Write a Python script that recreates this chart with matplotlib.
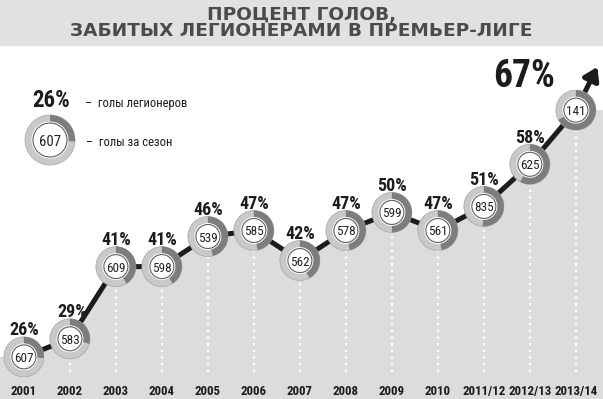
import matplotlib
matplotlib.use('Agg')
import matplotlib.pyplot as plt
from matplotlib import font_manager as fm
from matplotlib.patches import Wedge, Circle, Rectangle
from matplotlib.transforms import ScaledTranslation, blended_transform_factory

# data
seasons = ['2001', '2002', '2003', '2004', '2005', '2006', '2007', '2008',
           '2009', '2010', '2011/12', '2012/13', '2013/14']
share = [26, 29, 41, 41, 46, 47, 42, 47, 50, 47, 51, 58, 67]   # % goals by legionnaires
goals = [607, 583, 609, 598, 539, 585, 562, 578, 599, 561, 835, 625, 141]  # goals per season

title = 'ПРОЦЕНТ ГОЛОВ,\nЗАБИТЫХ ЛЕГИОНЕРАМИ В ПРЕМЬЕР-ЛИГЕ'
legend_pct = 'голы легионеров'
legend_goals = 'голы за сезон'


# look for a condensed face
def pick_narrow():
    fonts = fm.fontManager.ttflist
    names = {f.name for f in fonts}
    for p in ['Roboto Condensed', 'Liberation Sans Narrow', 'Open Sans Condensed',
              'Noto Sans Condensed', 'DejaVu Sans Condensed']:
        if p in names:
            return p, 'normal'
    for f in fonts:
        if str(f.stretch) in ('condensed', 'semi-condensed', 'extra-condensed'):
            return f.name, str(f.stretch)
    return 'Roboto', 'normal'


narrow, stretch = pick_narrow()
NF = dict(family=narrow, fontstretch=stretch)

BG = '#dcdcdc'
LIGHT = '#c9c9c9'
DARK = '#7d7d7d'
INK = '#1c1c1c'

fig = plt.figure(figsize=(6.03, 3.99), dpi=100)
ax = fig.add_axes([0, 0, 1, 1])
ax.set_xlim(-0.52, 12.59)
ax.set_ylim(19.0, 85.3)
ax.axis('off')

x = list(range(len(seasons)))
x0, x1 = ax.get_xlim()
y0 = ax.get_ylim()[0]

# title band
ax.add_patch(Rectangle((0, 1 - 45 / 399), 1, 45 / 399, transform=ax.transAxes,
                       color='#e1e1e1', zorder=0))
ax.text(0.5, 1 - 23 / 399, title, transform=ax.transAxes, ha='center', va='center',
        fontsize=13.3, fontweight='bold', family='DejaVu Sans', color='#4b4b4b',
        linespacing=0.9)

# gray area under the line
ax.fill_between([x0] + x + [x1], [share[0]] + share + [share[-1]], y0,
                color=BG, lw=0, zorder=1)

# dotted white guides
ax.vlines(x, 23.5, share, colors='white', linestyles=(0, (1, 2)), lw=1.6, zorder=2)

# the trend line + arrow
ax.plot(x, share, color=INK, lw=3.6, solid_capstyle='butt', zorder=3)
ax.annotate('', xy=(12.47, 74.2), xytext=(12, share[-1]),
            arrowprops=dict(arrowstyle='-|>,head_length=0.55,head_width=0.35',
                            color=INK, lw=3.6, shrinkA=0, shrinkB=0,
                            mutation_scale=14), zorder=3)


def donut(center, pct, n, r_out, r_in, fs):
    t = fig.dpi_scale_trans + center
    ax.add_patch(Circle((0, 0), r_out / 100, transform=t, fc=LIGHT, ec='#a5a5a5',
                        lw=0.5, zorder=5))
    ax.add_patch(Wedge((0, 0), r_out / 100, 90 - pct * 3.6, 90, transform=t,
                       fc=DARK, ec='none', zorder=6))
    ax.add_patch(Circle((0, 0), (r_in + 1.5) / 100, transform=t, fc='white',
                        ec='none', zorder=7))
    ax.add_patch(Circle((0, 0), r_in / 100, transform=t, fc='white', ec='#5f5f5f',
                        lw=0.8, zorder=8))
    ax.text(0, 0, str(n), transform=t, ha='center', va='center_baseline',
            fontsize=fs, color='#222222', zorder=9, **NF)


for i in x:
    donut(ScaledTranslation(x[i], share[i], ax.transData), share[i], goals[i], 20, 12, 9.5)

# percent labels
for i in x[:-1]:
    dx = 1.5 if i == 1 else 0
    ax.annotate(f'{share[i]}%', (x[i], share[i]), xytext=(dx, 20.5),
                textcoords='offset points', ha='center', va='center_baseline',
                fontsize=13, fontweight='bold', color=INK, zorder=10, **NF)
ax.annotate(f'{share[-1]}%', (x[-1], share[-1]), xytext=(-37, 27),
            textcoords='offset points', ha='center', va='center_baseline',
            fontsize=27, fontweight='bold', color=INK, zorder=10, **NF)

# season labels
tb = blended_transform_factory(ax.transData, ax.transAxes)
for i in x:
    ax.text(x[i], 9 / 399, seasons[i], transform=tb, ha='center', va='center_baseline',
            fontsize=9.3, fontweight='bold', color=INK, **NF)

# legend
ax.text(51 / 603, 1 - 98 / 399, f'{share[0]}%', transform=ax.transAxes, ha='center',
        va='center_baseline', fontsize=16.5, fontweight='bold', color=INK, **NF)
ax.text(85 / 603, 1 - 102 / 399, '–  ' + legend_pct, transform=ax.transAxes,
        ha='left', va='center_baseline', fontsize=9, color=INK, **NF)
donut(ScaledTranslation(50 / 603, 1 - 140 / 399, ax.transAxes), share[0], goals[0],
      25, 17, 10.5)
ax.text(86 / 603, 1 - 141 / 399, '–  ' + legend_goals, transform=ax.transAxes,
        ha='left', va='center_baseline', fontsize=9, color=INK, **NF)

fig.savefig('out.png', dpi=100, facecolor='white')
